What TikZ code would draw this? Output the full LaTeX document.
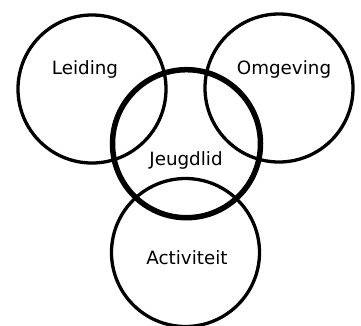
\documentclass[tikz,border=0pt]{standalone}
\usepackage{fontspec}
\setmainfont{DejaVu Sans}
\usepackage{xcolor}
\usetikzlibrary{positioning}
\tikzset{
  ring/.style={draw=black, circle, line width=3.3pt, minimum size=148pt, inner sep=0pt},
  ringStrong/.style={ring, line width=5.5pt},
  tag/.style={font=\fontsize{18.3}{20}\selectfont, inner sep=0pt, anchor=base}
}

\begin{document}
\begin{tikzpicture}[x=1pt,y=-1pt]
  \useasboundingbox (0,0) rectangle (361,325);
  \node[ring] (leiding) at (92,89) {};
  \node[ring] (omgeving) at (279,88) {};
  \node[ring] (activiteit) at (185.5,252.5) {};
  \node[ringStrong] (jeugdlid) at (186.5,143.7) {};
  \node[tag] (tLeiding) at (85,74) {Leiding};
  \node[tag] (tOmgeving) at (284,74) {Omgeving};
  \node[tag] (tJeugdlid) at (186,165) {Jeugdlid};
  \node[tag] (tActiviteit) at (187,264) {Activiteit};
\end{tikzpicture}
\end{document}
